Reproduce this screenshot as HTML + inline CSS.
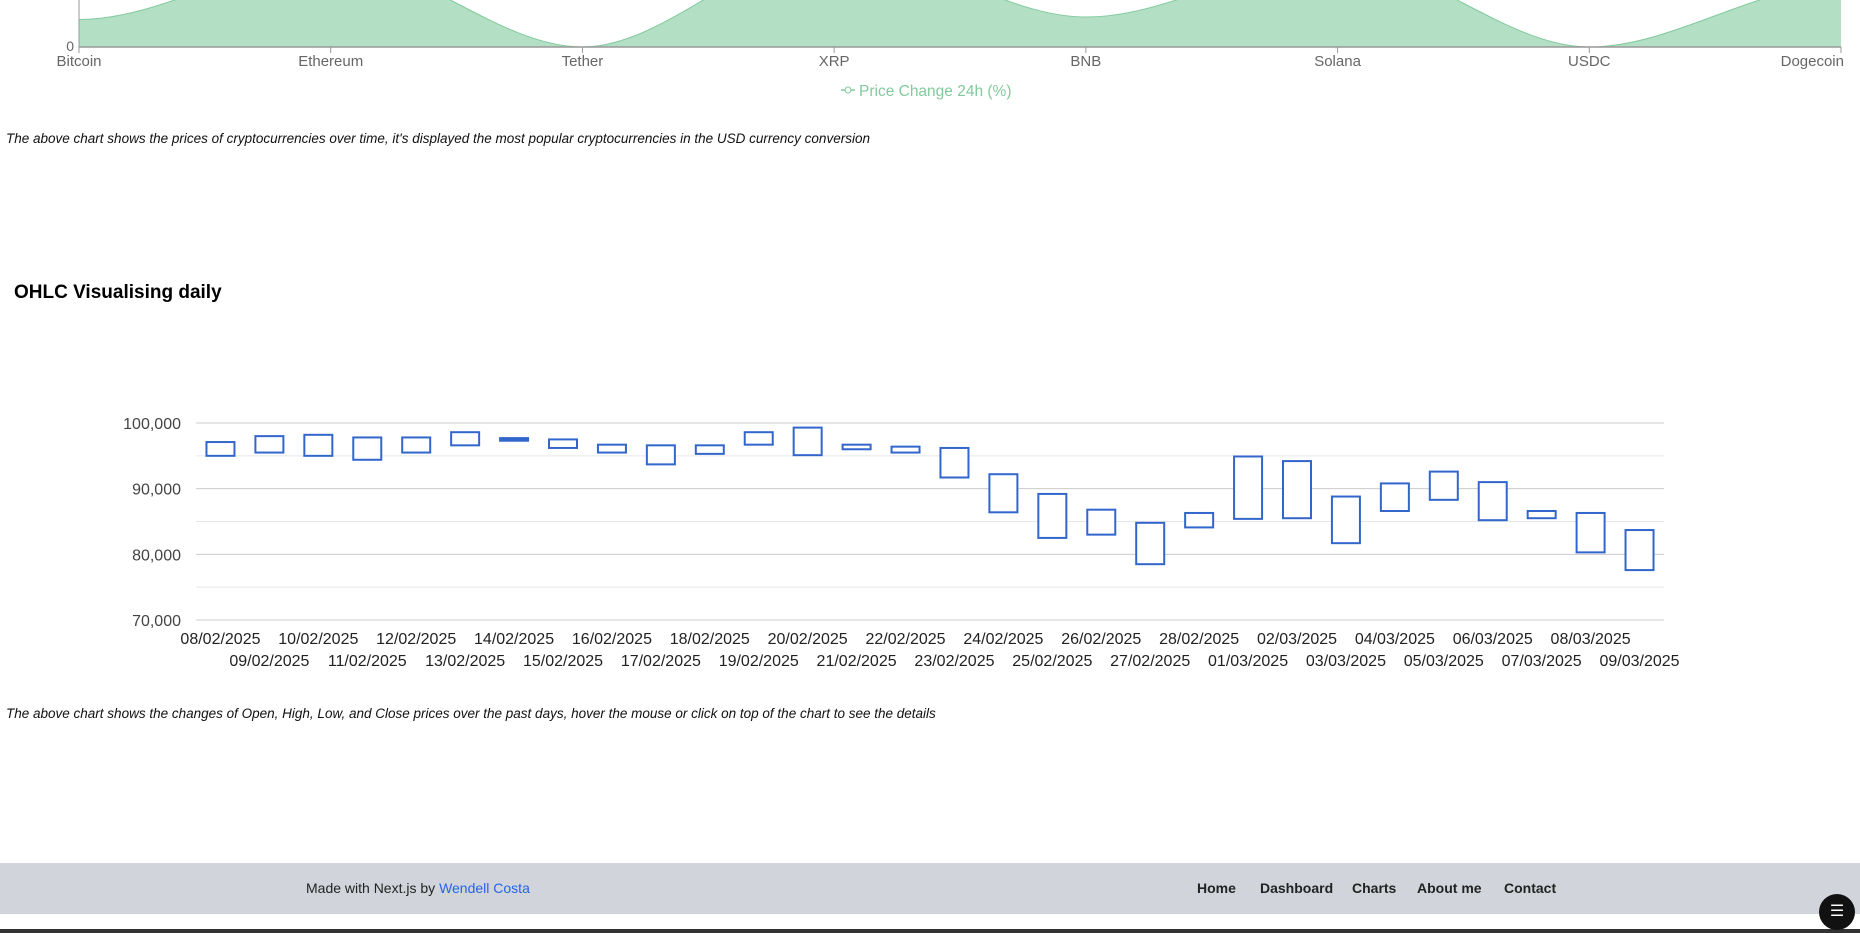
<!DOCTYPE html>
<html><head><meta charset="utf-8"><style>
body{margin:0;width:1860px;height:933px;overflow:hidden;background:#fff;font-family:"Liberation Sans",sans-serif;position:relative}
.cap{position:absolute;left:6px;font-style:italic;font-size:13.5px;color:#111;white-space:nowrap}
#footer{position:absolute;left:0;top:863px;width:1860px;height:51px;background:#d1d5db}
#footer a,#footer span{position:absolute;top:17px;font-size:14px;color:#222;text-decoration:none;white-space:nowrap}
</style></head><body>
<svg id="area" width="1860" height="110" style="position:absolute;left:0;top:0"></svg>
<div class="cap" style="top:131px">The above chart shows the prices of cryptocurrencies over time, it's displayed the most popular cryptocurrencies in the USD currency conversion</div>
<div style="position:absolute;left:14px;top:282px;font-weight:bold;font-size:19px;color:#000">OHLC Visualising daily</div>
<svg id="ohlc" width="1860" height="700" style="position:absolute;left:0;top:0"></svg>
<div class="cap" style="top:706px">The above chart shows the changes of Open, High, Low, and Close prices over the past days, hover the mouse or click on top of the chart to see the details</div>
<div id="footer">
<span style="left:306px">Made with Next.js by <a href="#" style="position:static;color:#2563eb">Wendell Costa</a></span>
<a href="#" style="left:1197px;font-weight:bold">Home</a>
<a href="#" style="left:1260px;font-weight:bold">Dashboard</a>
<a href="#" style="left:1352px;font-weight:bold">Charts</a>
<a href="#" style="left:1417px;font-weight:bold">About me</a>
<a href="#" style="left:1504px;font-weight:bold">Contact</a>
</div>
<div style="position:absolute;left:0;top:929px;width:1860px;height:4px;background:#333"></div>
<div style="position:absolute;left:1819px;top:894px;width:36px;height:36px;border-radius:50%;background:#111;color:#fff;font-size:16px;text-align:center;line-height:36px">☰</div>
<script>
const NS="http://www.w3.org/2000/svg";
function mk(p,t,a){const e=document.createElementNS(NS,t);for(const k in a)e.setAttribute(k,a[k]);p.appendChild(e);return e;}
// ---- area chart ----
const coins=["Bitcoin","Ethereum","Tether","XRP","BNB","Solana","USDC","Dogecoin"];
const change=[2.2,7,0,8,2.4,7,0,5];
const A=document.getElementById('area');
const ax0=79,ax1=1841,ay0=47,apx=12.5;
const axX=i=>ax0+i*(ax1-ax0)/(coins.length-1);
const axY=v=>ay0-v*apx;
function monotone(xs,ys){const n=xs.length,d=[],m=[];for(let i=0;i<n-1;i++)d.push((ys[i+1]-ys[i])/(xs[i+1]-xs[i]));
m[0]=d[0];m[n-1]=d[n-2];for(let i=1;i<n-1;i++){m[i]=d[i-1]*d[i]<=0?0:3*(d[i-1]+d[i])/((2*d[i]+d[i-1])/d[i-1]+(d[i]+2*d[i-1])/d[i])}
m[0]=0;m[n-1]=0;
let s=`M${xs[0]},${ys[0]}`;for(let i=0;i<n-1;i++){const h=(xs[i+1]-xs[i])/3;s+=` C${xs[i]+h},${ys[i]+m[i]*h} ${xs[i+1]-h},${ys[i+1]-m[i+1]*h} ${xs[i+1]},${ys[i+1]}`}return s;}
const xs=coins.map((c,i)=>axX(i)),ys=change.map(axY);
const line=monotone(xs,ys);
const ap=mk(A,'path',{d:line+` L${ax1},${ay0} L${ax0},${ay0} Z`,fill:'#b3dfc5'});


mk(A,'path',{d:line,fill:'none',stroke:'#82ca9d','stroke-width':1});
mk(A,'line',{x1:ax0,x2:ax1,y1:ay0,y2:ay0,stroke:'#999','stroke-width':1.5});
mk(A,'line',{x1:ax0,x2:ax0,y1:0,y2:ay0,stroke:'#999'});
mk(A,'text',{x:ax0-5,y:ay0+4,'text-anchor':'end','font-size':14,fill:'#666'}).textContent='0';
coins.forEach((c,i)=>{const x=axX(i);mk(A,'line',{x1:x,x2:x,y1:ay0,y2:ay0+6,stroke:'#999'});
const anchor=i===coins.length-1?'end':'middle';
const t=mk(A,'text',{x:i===coins.length-1?x+3:x,y:ay0+19,'text-anchor':anchor,'font-size':15,fill:'#666'});t.textContent=c;

});
const lg=mk(A,'g',{});


mk(lg,'line',{x1:841,x2:855,y1:90,y2:90,stroke:'#82ca9d','stroke-width':1.5});
mk(lg,'circle',{cx:848,cy:90,r:3,fill:'#fff',stroke:'#82ca9d'});
mk(lg,'text',{x:859,y:96,'font-size':15.5,fill:'#82ca9d'}).textContent='Price Change 24h (%)';
// ---- OHLC chart ----
const dates=["08/02/2025","09/02/2025","10/02/2025","11/02/2025","12/02/2025","13/02/2025","14/02/2025","15/02/2025","16/02/2025","17/02/2025","18/02/2025","19/02/2025","20/02/2025","21/02/2025","22/02/2025","23/02/2025","24/02/2025","25/02/2025","26/02/2025","27/02/2025","28/02/2025","01/03/2025","02/03/2025","03/03/2025","04/03/2025","05/03/2025","06/03/2025","07/03/2025","08/03/2025","09/03/2025"];
const openP=[97100,98000,98200,97800,97800,98600,97700,97500,96700,96600,96600,98600,99300,96700,96400,96200,92200,89200,86800,84800,86300,94900,94200,88800,90800,92600,91000,86600,86300,83700];
const closeP=[95000,95500,95000,94400,95500,96600,97300,96200,95500,93700,95300,96700,95100,96000,95500,91700,86400,82500,83000,78500,84100,85400,85500,81700,86600,88300,85200,85500,80300,77600];
const yTicks=[70000,80000,90000,100000];
const yMinor=[75000,85000,95000];
const O=document.getElementById('ohlc');
const px0=196,px1=1664,vy0=70000,vy1=100000,py0=620,py1=423;
const band=(px1-px0)/dates.length;
const X=i=>px0+band*(i+0.5);
const Y=v=>py0-(v-vy0)/(vy1-vy0)*(py0-py1);
yMinor.forEach(v=>mk(O,'line',{x1:px0,x2:px1,y1:Y(v),y2:Y(v),stroke:'#e6e6e6'}));
yTicks.forEach(v=>{mk(O,'line',{x1:px0,x2:px1,y1:Y(v),y2:Y(v),stroke:'#ccc'});
const t=mk(O,'text',{x:181,y:Y(v)+6,'text-anchor':'end','font-size':16,fill:'#444'});t.textContent=v.toLocaleString('en-US');

});
dates.forEach((d,i)=>{const t=mk(O,'text',{x:X(i),y:i%2?666:644,'text-anchor':'middle','font-size':16,fill:'#222'});t.textContent=d;


const hi=Math.max(openP[i],closeP[i]),lo=Math.min(openP[i],closeP[i]);
const h=Math.max(Y(lo)-Y(hi),2);
const r=mk(O,'rect',{x:X(i)-14,y:Y(hi),width:28,height:h,fill:h<4?'#3366cc':'#fff',stroke:'#3366cc','stroke-width':2});

});
</script>
</body></html>
